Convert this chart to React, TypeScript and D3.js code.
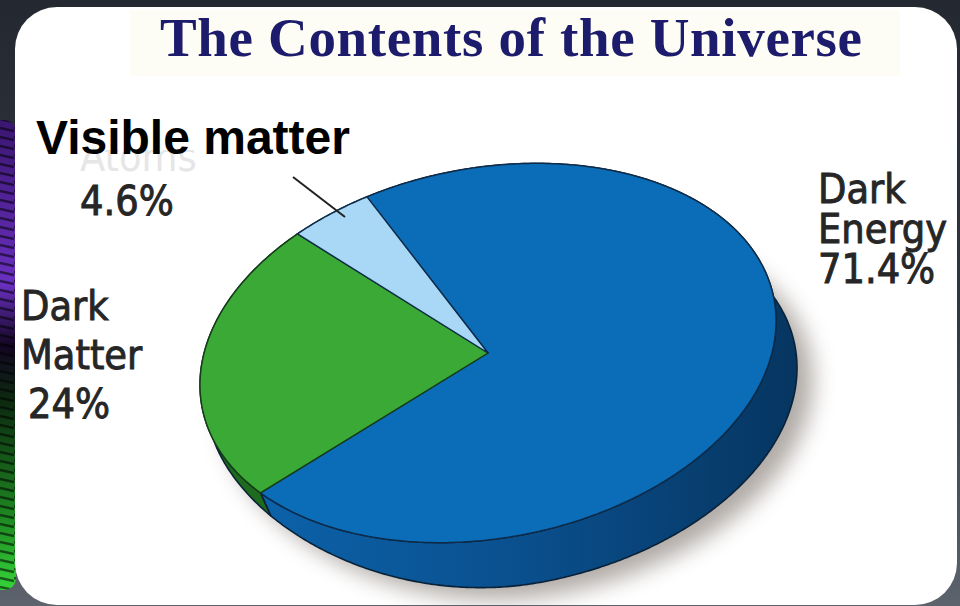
import React from "react";
import * as d3 from "d3";

// ---- data ----
const categories = ["Dark Energy", "Dark Matter", "Visible matter"];
const shares = [71.4, 24, 4.6];
const topColors = ["#0b6cb8", "#3aa935", "#a8d8f6"];
const sideColors = ["url(#sideBlue)", "#1f6b1d", "#6aa9d0"];
const labelLines = [
  ["Dark", "Energy", "71.4%"],
  ["Dark", "Matter", "24%"],
  ["4.6%"],
];
const title = "The Contents of the Universe";
const callout = "Visible matter";
const ghostLabel = "Atoms";

const W = 960;
const H = 606;

export default function App() {
  const cx = 488, cy = 353, a = 291, b = 185;
  const phi = (-10.7 * Math.PI) / 180;
  const dx = 21, dy = 47;
  const start = (-18 * Math.PI) / 180;

  const pie = d3
    .pie<number>()
    .sort(null)
    .startAngle(start)
    .endAngle(start + 2 * Math.PI);
  const arcs = pie(shares);

  const pt = (ang: number, depth = false): [number, number] => {
    const t = ang - Math.PI / 2;
    const lx = a * Math.cos(t);
    const ly = b * Math.sin(t);
    let ox = 0, oy = 0;
    if (depth) {
      const c = Math.max(0, -Math.cos(t));
      const f = 1 - 0.7 * c * c;
      ox = dx * f;
      oy = dy * f;
    }
    return [
      cx + lx * Math.cos(phi) - ly * Math.sin(phi) + ox,
      cy + lx * Math.sin(phi) + ly * Math.cos(phi) + oy,
    ];
  };
  const arcPts = (s: number, e: number, depth = false) => {
    const n = Math.max(2, Math.ceil((e - s) / (Math.PI / 360)));
    return d3.range(n + 1).map((i) => pt(s + ((e - s) * i) / n, depth));
  };
  const line = d3.line<[number, number]>();

  const topPaths = arcs.map((d) => line([[cx, cy], ...arcPts(d.startAngle, d.endAngle)]) + "Z");
  const bandPaths = arcs.map((d) => {
    const top = arcPts(d.startAngle, d.endAngle);
    const bot = arcPts(d.startAngle, d.endAngle, true).reverse();
    return line([...top, ...bot]) + "Z";
  });
  const shadowPath =
    line(arcPts(0, 2 * Math.PI, true).map(([x, y]) => [x + 16, y + 12] as [number, number])) + "Z";

  const labelFont = "'DejaVu Sans Condensed', 'Liberation Sans Narrow', 'DejaVu Sans', sans-serif";

  return (
    <svg
      width={W}
      height={H}
      style={{ position: "absolute", left: 0, top: 0 }}
      viewBox={`0 0 ${W} ${H}`}
    >
      <defs>
        <linearGradient id="bg" x1="0" y1="0" x2="0" y2="1">
          <stop offset="0" stopColor="#242931" />
          <stop offset="0.5" stopColor="#30363f" />
          <stop offset="1" stopColor="#5d636c" />
        </linearGradient>
        <linearGradient id="swirl" x1="0" y1="0" x2="0" y2="1">
          <stop offset="0" stopColor="#3a1670" />
          <stop offset="0.35" stopColor="#6a30c0" />
          <stop offset="0.48" stopColor="#120622" />
          <stop offset="0.6" stopColor="#0c2a10" />
          <stop offset="0.85" stopColor="#1f8a22" />
          <stop offset="1" stopColor="#35d43a" />
        </linearGradient>
        <pattern id="stripes" width="14" height="9" patternUnits="userSpaceOnUse">
          <line x1="0" y1="2" x2="14" y2="5" stroke="#000" strokeOpacity="0.55" strokeWidth="2.5" />
        </pattern>
        <linearGradient id="sideBlue" gradientUnits="userSpaceOnUse" x1="240" y1="0" x2="810" y2="0">
          <stop offset="0" stopColor="#0c63ab" />
          <stop offset="0.5" stopColor="#0a4f8d" />
          <stop offset="1" stopColor="#06345e" />
        </linearGradient>
        <filter id="blur" x="-20%" y="-20%" width="140%" height="140%">
          <feGaussianBlur stdDeviation="11" />
        </filter>
        <clipPath id="panelClip">
          <rect x={15} y={7} width={942} height={598} rx={42} />
        </clipPath>
        <clipPath id="ghostClip">
          <rect x={0} y={150} width={400} height={40} />
        </clipPath>
      </defs>

      <rect x={0} y={0} width={W} height={H} fill="url(#bg)" />

      {/* left decorative swirl */}
      <rect x={-10} y={120} width={26} height={470} rx={12} fill="url(#swirl)" />
      <rect x={-10} y={120} width={26} height={470} rx={12} fill="url(#stripes)" />

      {/* panel */}
      <rect x={15} y={7} width={942} height={598} rx={42} fill="#ffffff" />

      <g clipPath="url(#panelClip)">
        <rect x={130} y={10} width={770} height={66} fill="#fefdf5" />
        <text
          x={160}
          y={56}
          fontFamily="'Liberation Serif', 'Times New Roman', serif"
          fontWeight="bold"
          fontSize={55}
          fill="#1d1c6c"
          textLength={702}
          lengthAdjust="spacing"
        >
          {title}
        </text>

        {/* shadow */}
        <path d={shadowPath} fill="#7d736c" opacity={0.6} filter="url(#blur)" />

        {/* sides */}
        {bandPaths.map((p, i) => (
          <path key={"b" + i} d={p} fill={sideColors[i]} stroke="#0a2238" strokeWidth={1.6} strokeLinejoin="round" />
        ))}

        {/* top faces */}
        {topPaths.map((p, i) => (
          <path
            key={"t" + i}
            d={p}
            fill={topColors[i]}
            stroke={i === 1 ? "#173d16" : "#0e2c4a"}
            strokeWidth={1.4}
            strokeLinejoin="round"
          >
            <title>{categories[i]}</title>
          </path>
        ))}

        {/* labels */}
        <g fontFamily={labelFont} fontSize={41} fill="#262626" stroke="#262626" strokeWidth={0.9}>
          {labelLines[0].map((s, i) => (
            <text key={"e" + i} x={818} y={203 + i * 40}>
              {s}
            </text>
          ))}
          {labelLines[1].map((s, i) => (
            <text key={"m" + i} x={i === 2 ? 28 : 21} y={320 + i * 49}>
              {s}
            </text>
          ))}
          <text x={80} y={215}>
            {labelLines[2][0]}
          </text>
        </g>
        <text
          x={80}
          y={171}
          fontFamily={labelFont}
          fontSize={41}
          fill="#e6e6e6"
          clipPath="url(#ghostClip)"
        >
          {ghostLabel}
        </text>

        <line x1={293} y1={177} x2={345} y2={217} stroke="#222" strokeWidth={2} />

        <text
          x={36}
          y={154}
          fontFamily="'Liberation Sans', Arial, sans-serif"
          fontWeight="bold"
          fontSize={48}
          fill="#000"
        >
          {callout}
        </text>
      </g>
    </svg>
  );
}
